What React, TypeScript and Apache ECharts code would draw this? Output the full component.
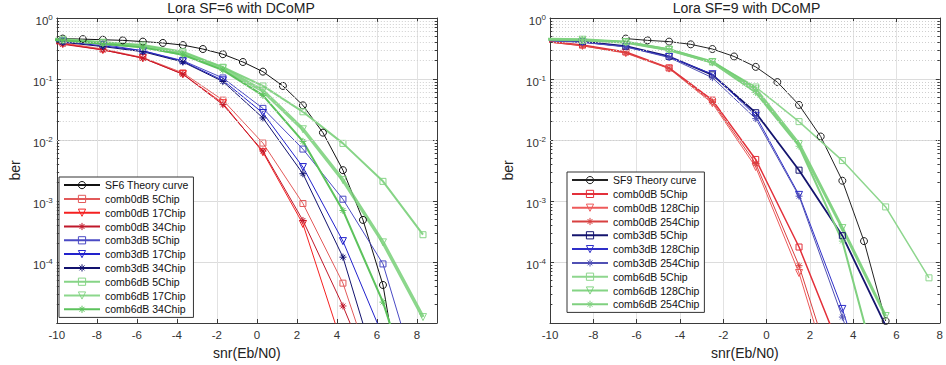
import React, { useEffect, useRef } from 'react';
import * as echarts from 'echarts';

// ---------------- data: left plot (SF6) ----------------
const leftTitle = 'Lora SF=6 with DCoMP';
const leftTheoryX = [-10.7, -9.7, -8.7, -7.7, -6.7, -5.7, -4.7, -3.7, -2.7, -1.7, -0.7, 0.3, 1.3, 2.3, 3.3, 4.3, 5.3, 6.3, 7.3];
const leftTheoryY = [0.47, 0.46, 0.45, 0.44, 0.43, 0.41, 0.39, 0.36, 0.31, 0.255, 0.19, 0.132, 0.077, 0.037, 0.0132, 0.0032, 0.00049, 4.2e-5, 5e-7];
const leftSimX = [-11.7, -9.7, -7.7, -5.7, -3.7, -1.7, 0.3, 2.3, 4.3, 6.3, 8.3];
const leftC0_5 = [0.44, 0.39, 0.31, 0.225, 0.126, 0.045, 0.0089, 0.00091, 4.5e-5, 5e-7, null];
const leftC0_17 = [0.43, 0.38, 0.3, 0.22, 0.12, 0.04, 0.0063, 0.00042, 4e-6, null, null];
const leftC0_34 = [0.42, 0.37, 0.3, 0.22, 0.12, 0.038, 0.0066, 0.00048, 1.9e-5, 5e-7, null];
const leftC3_5 = [0.45, 0.42, 0.37, 0.29, 0.2, 0.104, 0.033, 0.0071, 0.00107, 9.3e-5, 6e-7];
const leftC3_17 = [0.44, 0.41, 0.35, 0.29, 0.195, 0.095, 0.0277, 0.0036, 0.00022, 6e-6, null];
const leftC3_34 = [0.43, 0.4, 0.34, 0.28, 0.19, 0.091, 0.023, 0.0028, 0.00012, 8e-7, null];
const leftC6_5 = [0.46, 0.44, 0.4, 0.36, 0.28, 0.156, 0.077, 0.029, 0.0088, 0.0021, 0.00028];
const leftC6_17 = [0.46, 0.44, 0.39, 0.34, 0.26, 0.15, 0.064, 0.015, 0.0022, 0.00021, 1.25e-5];
const leftC6_34 = [0.45, 0.43, 0.38, 0.33, 0.25, 0.14, 0.054, 0.0095, 0.0007, 2.2e-5, 2e-7];
const leftNames = ['SF6 Theory curve', 'comb0dB 5Chip', 'comb0dB 17Chip', 'comb0dB 34Chip', 'comb3dB 5Chip', 'comb3dB 17Chip', 'comb3dB 34Chip', 'comb6dB 5Chip', 'comb6dB 17Chip', 'comb6dB 34Chip'];

// ---------------- data: right plot (SF9) ----------------
const rightTitle = 'Lora SF=9 with DCoMP';
const rightTheoryX = [-6.5, -5.5, -4.5, -3.5, -2.5, -1.5, -0.5, 0.5, 1.5, 2.5, 3.5, 4.5, 5.5];
const rightTheoryY = [0.46, 0.43, 0.41, 0.37, 0.31, 0.234, 0.158, 0.089, 0.0376, 0.0114, 0.00215, 0.00022, 1.08e-5];
const rightSimX = [-10.5, -8.5, -6.5, -4.5, -2.5, -0.5, 1.5, 3.5, 5.5, 7.5];
const rightC0_5 = [0.43, 0.36, 0.277, 0.152, 0.045, 0.0048, 0.000176, 3e-6, null, null];
const rightC0_128 = [0.42, 0.35, 0.265, 0.148, 0.04, 0.0036, 6.6e-5, 3e-7, null, null];
const rightC0_254 = [0.42, 0.35, 0.27, 0.15, 0.042, 0.0041, 8.7e-5, 5e-7, null, null];
const rightC3_5 = [0.44, 0.41, 0.345, 0.234, 0.117, 0.028, 0.0032, 0.00027, 9e-6, null];
const rightC3_128 = [0.44, 0.4, 0.34, 0.23, 0.12, 0.025, 0.00126, 1.7e-5, 1e-7, null];
const rightC3_254 = [0.43, 0.4, 0.335, 0.225, 0.105, 0.0224, 0.0012, 1.25e-5, 1e-7, null];
const rightC6_5 = [0.45, 0.43, 0.41, 0.31, 0.19, 0.074, 0.02, 0.0046, 0.0008, 5.5e-5];
const rightC6_128 = [0.45, 0.44, 0.4, 0.3, 0.19, 0.068, 0.0086, 0.00036, 1.3e-5, null];
const rightC6_254 = [0.45, 0.44, 0.4, 0.3, 0.185, 0.06, 0.0079, 0.00022, 5e-7, null];
const rightNames = ['SF9 Theory curve', 'comb0dB 5Chip', 'comb0dB 128Chip', 'comb0dB 254Chip', 'comb3dB 5Chip', 'comb3dB 128Chip', 'comb3dB 254Chip', 'comb6dB 5Chip', 'comb6dB 128Chip', 'comb6dB 254Chip'];

// ---------------- axes ----------------
const xAxisName = 'snr(Eb/N0)';
const yAxisName = 'ber';
const xMin = -10;
const yMin = 1e-5;
const yMax = 1;
const minorGridValues: number[] = [];
for (let e = -5; e < 0; e++) for (let m = 2; m <= 9; m++) minorGridValues.push(m * Math.pow(10, e));

const FONT = '"Liberation Sans", Arial, Helvetica, sans-serif';
const STAR = 'path://M5,0L5,10M0,5L10,5M1.6,1.6L8.4,8.4M1.6,8.4L8.4,1.6';

type Style = { color: string; width: number; symbol: string; size: number; rotate?: number; opacity?: number };

function mk(name: string, xs: number[], ys: (number | null)[], st: Style) {
  const data: number[][] = [];
  xs.forEach((x, i) => {
    const y = ys[i];
    if (y != null) data.push([x, y]);
  });
  return {
    type: 'line',
    name,
    data,
    symbol: st.symbol,
    symbolSize: st.size,
    symbolRotate: st.rotate || 0,
    showAllSymbol: true,
    clip: true,
    lineStyle: { color: st.color, width: st.width, opacity: st.opacity ?? 1 },
    itemStyle: { color: 'none', borderColor: st.color, borderWidth: 1, opacity: st.opacity ?? 1 },
    emphasis: { disabled: true },
    z: 3,
  };
}

const circ = (c: string, w = 1): Style => ({ color: c, width: w, symbol: 'circle', size: 7 });
const sq = (c: string, w = 1, o = 1): Style => ({ color: c, width: w, symbol: 'rect', size: 6, opacity: o });
const tri = (c: string, w = 1, o = 1): Style => ({ color: c, width: w, symbol: 'triangle', size: 7, rotate: 180, opacity: o });
const star = (c: string, w = 1, o = 1): Style => ({ color: c, width: w, symbol: STAR, size: 7, opacity: o });

function buildOption(p: {
  title: string; gridLeft: number; gridWidth: number; xMax: number; names: string[]; series: any[]; legendLeft: number; legendTop: number;
}) {
  const gridTop = 18;
  const gridHeight = 311;
  const axisColor = '#3a3a3a';
  const tickLenUnits = (4 / p.gridWidth) * (p.xMax - xMin);
  const ylabel = (v: number) => {
    const e = Math.round(Math.log10(v));
    if (e <= -5) return '';
    return `{b|10}{s|${e}}`;
  };
  const minorTicks: any[] = [];
  minorGridValues.forEach((v) => {
    minorTicks.push([{ coord: [xMin, v] }, { coord: [xMin + tickLenUnits * 0.6, v] }]);
    minorTicks.push([{ coord: [p.xMax - tickLenUnits * 0.6, v] }, { coord: [p.xMax, v] }]);
  });
  return {
    animation: false,
    backgroundColor: '#ffffff',
    grid: { left: p.gridLeft, top: gridTop, width: p.gridWidth, height: gridHeight, containLabel: false },
    graphic: [
      {
        type: 'text',
        x: p.gridLeft + p.gridWidth / 2,
        y: 1,
        style: {
          text: p.title,
          font: 'normal 14px "Liberation Sans", Arial, sans-serif',
          fill: '#222',
          align: 'center',
          verticalAlign: 'top',
          textAlign: 'center',
          textVerticalAlign: 'top',
        },
      },
    ],
    xAxis: [
      {
        type: 'value', min: xMin, max: p.xMax, interval: 2, position: 'bottom',
        name: xAxisName, nameLocation: 'middle', nameGap: 23,
        nameTextStyle: { fontSize: 14, fontFamily: FONT, color: '#222' },
        axisLine: { show: true, onZero: false, lineStyle: { color: axisColor, width: 1 } },
        axisTick: { show: true, inside: true, length: 4, lineStyle: { color: axisColor } },
        axisLabel: { fontSize: 11.5, fontFamily: FONT, color: '#333', margin: 6, formatter: (v: number) => (v > 8.5 ? '' : String(v)) },
        splitLine: { show: true, lineStyle: { color: '#e2e2e2', width: 1 } },
      },
      {
        type: 'value', min: xMin, max: p.xMax, interval: 2, position: 'top',
        axisLine: { show: true, onZero: false, lineStyle: { color: axisColor, width: 1 } },
        axisTick: { show: true, inside: true, length: 4, lineStyle: { color: axisColor } },
        axisLabel: { show: false },
        splitLine: { show: false },
      },
    ],
    yAxis: [
      {
        type: 'log', logBase: 10, min: yMin, max: yMax, position: 'left',
        name: yAxisName, nameLocation: 'middle', nameGap: 34, nameRotate: 90,
        nameTextStyle: { fontSize: 14, fontFamily: FONT, color: '#222' },
        axisLine: { show: true, onZero: false, lineStyle: { color: axisColor, width: 1 } },
        axisTick: { show: true, inside: true, length: 4, lineStyle: { color: axisColor } },
        axisLabel: {
          margin: 4, formatter: ylabel, color: '#333',
          rich: {
            b: { fontSize: 11.5, fontFamily: FONT, color: '#333', padding: [6, 0, 0, 0] },
            s: { fontSize: 8, fontFamily: FONT, color: '#333', padding: [0, 0, 2, 0] },
          },
        },
        splitLine: { show: true, lineStyle: { color: '#dcdcdc', width: 1 } },
      },
      {
        type: 'log', logBase: 10, min: yMin, max: yMax, position: 'right',
        axisLine: { show: true, onZero: false, lineStyle: { color: axisColor, width: 1 } },
        axisTick: { show: true, inside: true, length: 4, lineStyle: { color: axisColor } },
        axisLabel: { show: false },
        splitLine: { show: false },
      },
    ],
    legend: {
      orient: 'vertical', left: p.legendLeft, top: p.legendTop,
      data: p.names, selectedMode: false,
      itemWidth: 36, itemHeight: 9, itemGap: 1.6,
      padding: [2, 5, 2, 4],
      itemStyle: { borderWidth: 1 },
      backgroundColor: '#ffffff', borderColor: '#333', borderWidth: 1, borderRadius: 0,
      textStyle: { fontSize: 10.5, fontFamily: FONT, color: '#111', lineHeight: 12 },
    },
    series: [
      {
        type: 'line', name: '__minorgrid', data: [[-30, 0.5]], symbol: 'none', silent: true, z: 1,
        lineStyle: { opacity: 0 },
        markLine: {
          silent: true, symbol: ['none', 'none'], label: { show: false }, animation: false,
          emphasis: { disabled: true },
          lineStyle: { color: '#cfcfcf', type: [1, 2], width: 1 },
          data: minorGridValues.map((v) => ({ yAxis: v })),
        },
      },
      {
        type: 'line', name: '__minorticks', data: [[-30, 0.5]], symbol: 'none', silent: true, z: 2,
        lineStyle: { opacity: 0 },
        markLine: {
          silent: true, symbol: ['none', 'none'], label: { show: false }, animation: false,
          emphasis: { disabled: true },
          lineStyle: { color: axisColor, type: 'solid', width: 1 },
          data: minorTicks,
        },
      },
      ...p.series,
    ],
  };
}

const leftSeries = [
  mk(leftNames[0], leftTheoryX, leftTheoryY, circ('#111')),
  mk(leftNames[1], leftSimX, leftC0_5, sq('#e25a5a')),
  mk(leftNames[2], leftSimX, leftC0_17, tri('#f52020')),
  mk(leftNames[3], leftSimX, leftC0_34, star('#c0182a')),
  mk(leftNames[4], leftSimX, leftC3_5, sq('#4a4ac4')),
  mk(leftNames[5], leftSimX, leftC3_17, tri('#2222cc')),
  mk(leftNames[6], leftSimX, leftC3_34, star('#12126e')),
  mk(leftNames[7], leftSimX, leftC6_5, sq('#86d486', 2)),
  mk(leftNames[8], leftSimX, leftC6_17, tri('#78d078', 3.5, 0.85)),
  mk(leftNames[9], leftSimX, leftC6_34, star('#5cc25c', 2)),
];

const rightSeries = [
  mk(rightNames[0], rightTheoryX, rightTheoryY, circ('#222')),
  mk(rightNames[1], rightSimX, rightC0_5, sq('#e3303a', 1.5)),
  mk(rightNames[2], rightSimX, rightC0_128, tri('#ee5a5a')),
  mk(rightNames[3], rightSimX, rightC0_254, star('#d84040')),
  mk(rightNames[4], rightSimX, rightC3_5, sq('#14146e', 1.8)),
  mk(rightNames[5], rightSimX, rightC3_128, tri('#2f2fc8')),
  mk(rightNames[6], rightSimX, rightC3_254, star('#5050b4')),
  mk(rightNames[7], rightSimX, rightC6_5, sq('#8ed68e', 1.5)),
  mk(rightNames[8], rightSimX, rightC6_128, tri('#6fcc6f', 3, 0.85)),
  mk(rightNames[9], rightSimX, rightC6_254, star('#7fd07f', 2)),
];

function Chart(props: { option: any; left: number; width: number }) {
  const ref = useRef<HTMLDivElement>(null);
  useEffect(() => {
    if (!ref.current) return;
    const chart = echarts.init(ref.current, undefined, { renderer: 'svg' });
    chart.setOption(props.option);
    return () => chart.dispose();
  }, []);
  return <div ref={ref} style={{ position: 'absolute', left: props.left, top: 0, width: props.width, height: 365 }} />;
}

export default function App() {
  const leftOpt = buildOption({ title: leftTitle, gridLeft: 45, gridWidth: 392, xMax: 9, names: leftNames, series: leftSeries, legendLeft: 59, legendTop: 177 });
  const rightOpt = buildOption({ title: rightTitle, gridLeft: 77, gridWidth: 393, xMax: 8, names: rightNames, series: rightSeries, legendLeft: 94, legendTop: 172 });
  return (
    <div style={{ position: 'absolute', left: 0, top: 0, width: 946, height: 365, background: '#fff', overflow: 'hidden' }}>
      <Chart option={leftOpt} left={0} width={473} />
      <Chart option={rightOpt} left={473} width={473} />
    </div>
  );
}
